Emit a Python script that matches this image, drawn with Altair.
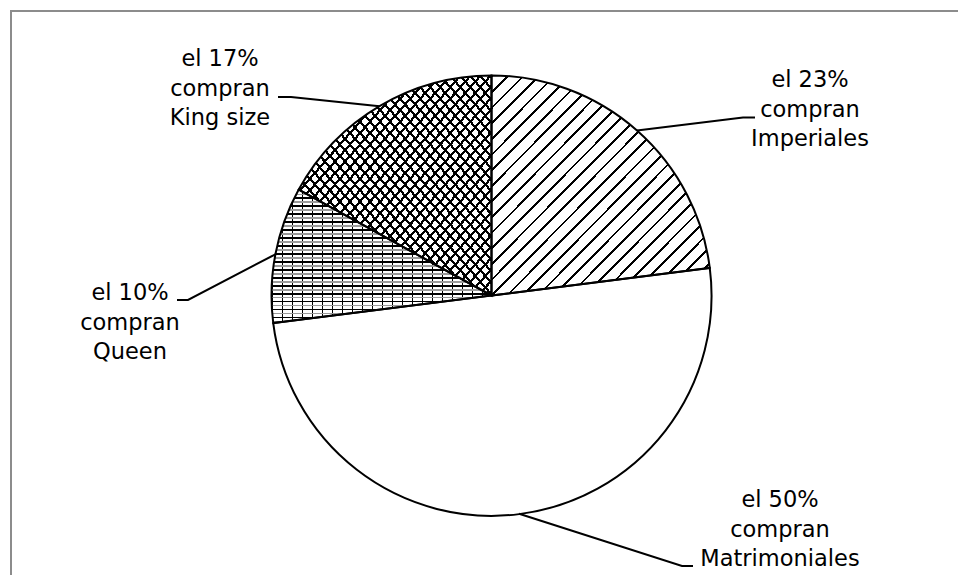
import math
import altair as alt
import pandas as pd

# ---- data -------------------------------------------------------------
names = ["Imperiales", "Matrimoniales", "Queen", "King size"]
shares = [23, 50, 10, 17]

# ---- layout / style ---------------------------------------------------
W, H = 958, 575
CX, CY, R = 491.5, 295.5, 220
FONT = "DejaVu Sans"
FONT_SIZE = 22.5
LINE_H = 29.5

# label block: centre x and first baseline y
label_pos = {
    "Imperiales": (810, 87),
    "Matrimoniales": (780, 507),
    "Queen": (130, 300),
    "King size": (220, 66),
}
# leader line: elbow and end next to the label
leader_elbow = {
    "Imperiales": (743, 117.5),
    "Matrimoniales": (682, 566),
    "Queen": (188, 300),
    "King size": (291, 97),
}
leader_end = {
    "Imperiales": (755, 117.5),
    "Matrimoniales": (693, 566),
    "Queen": (177, 300),
    "King size": (278, 97),
}

CLEAR = "rgba(0,0,0,0)"


def stripes(period, width, color, x1, y1, x2, y2, phase=0.0):
    """Hard-edged repeating stripes built from a linear gradient."""
    stops = []
    t = phase
    while t < 1:
        a = round(t, 5)
        b = round(min(t + width, 1.0), 5)
        stops += [(a, CLEAR), (a, color), (b, color), (b, CLEAR)]
        t += period
    return alt.LinearGradient(
        gradient="linear",
        stops=[alt.GradientStop(offset=o, color=c) for o, c in stops],
        x1=x1, y1=y1, x2=x2, y2=y2,
    )


df = pd.DataFrame({"name": names, "share": shares, "idx": range(len(names))})

theta = alt.Theta("share:Q", stack=True)
order = alt.Order("idx:Q", sort="ascending")
centre = dict(x=alt.value(CX), y=alt.value(CY))

base = alt.Chart(df)


def pattern_layer(target, grad):
    return base.mark_arc(outerRadius=R, fill=grad, strokeWidth=0).encode(
        theta=theta,
        order=order,
        fillOpacity=alt.condition(
            alt.datum.name == target, alt.value(1), alt.value(0)
        ),
        **centre,
    )


white = base.mark_arc(outerRadius=R, fill="white", strokeWidth=0).encode(
    theta=theta, order=order, **centre
)

# Imperiales: diagonal hatching
imp = pattern_layer("Imperiales", stripes(0.0355, 0.0063, "black", 0, 0, 1, 1))
# Queen: fine brick grid
queen_v = pattern_layer("Queen", stripes(0.0455, 0.0072, "black", 0, 0, 1, 0))
queen_h1 = pattern_layer("Queen", stripes(0.0597, 0.010, "black", 0, 0, 0, 1))
queen_h2 = pattern_layer(
    "Queen", stripes(0.0597, 0.010, "#9a9a9a", 0, 0, 0, 1, phase=0.0299)
)
# King size: woven cross hatching
king_a = pattern_layer("King size", stripes(0.026, 0.0075, "black", 0, 0, 1, 1))
king_b = pattern_layer("King size", stripes(0.026, 0.0075, "black", 1, 0, 0, 1))

outline = base.mark_arc(
    outerRadius=R, fill="transparent", stroke="black", strokeWidth=2
).encode(theta=theta, order=order, **centre)

# ---- leader lines and labels ------------------------------------------
total = sum(shares)
rows, texts = [], []
cum = 0
for n, s in zip(names, shares):
    ang = 2 * math.pi * (cum + s / 2) / total
    cum += s
    ex, ey = CX + R * math.sin(ang), CY - R * math.cos(ang)
    pts = [(ex, ey), leader_elbow[n], leader_end[n]]
    for k, (px, py) in enumerate(pts):
        rows.append({"name": n, "k": k, "px": px, "py": py})
    lx, ly = label_pos[n]
    texts.append({"name": n, "px": lx, "py": ly,
                  "label": f"el {s}%\ncompran\n{n}"})

xs = alt.Scale(domain=[0, W], nice=False, zero=False)
ys = alt.Scale(domain=[0, H], nice=False, zero=False, reverse=True)

leaders = alt.Chart(pd.DataFrame(rows)).mark_line(
    color="black", strokeWidth=2
).encode(
    x=alt.X("px:Q", scale=xs, axis=None),
    y=alt.Y("py:Q", scale=ys, axis=None),
    detail="name:N",
    order="k:Q",
)

labels = alt.Chart(pd.DataFrame(texts)).mark_text(
    font=FONT, fontSize=FONT_SIZE, lineHeight=LINE_H, lineBreak="\n",
    align="center", baseline="alphabetic", color="black",
).encode(
    x=alt.X("px:Q", scale=xs, axis=None),
    y=alt.Y("py:Q", scale=ys, axis=None),
    text="label:N",
)

frame = alt.Chart(pd.DataFrame({"a": [0]})).mark_rect(
    fill="transparent", stroke="#8c8c8c", strokeWidth=2
).encode(
    x=alt.value(11), x2=alt.value(W + 40),
    y=alt.value(11), y2=alt.value(H + 40),
)

chart = alt.layer(
    white, imp, queen_v, queen_h1, queen_h2, king_a, king_b, outline,
    leaders, labels, frame,
).properties(
    width=W, height=H, padding=0,
    autosize=alt.AutoSizeParams(type="none"),
    background="white",
).configure_view(strokeWidth=0)

chart.save("out.html", embed_options={"renderer": "svg", "actions": False})
